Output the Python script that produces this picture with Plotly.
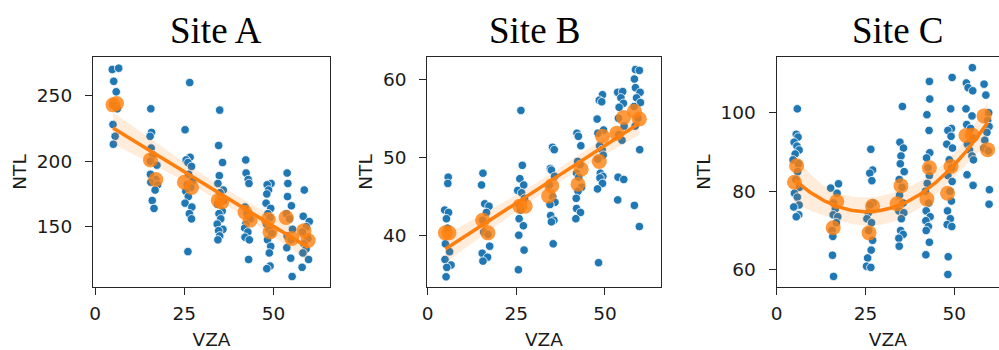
import numpy as np
import plotly.graph_objects as go

# ---------------- data ----------------
titles = ["Site A", "Site B", "Site C"]

a_blue_x = [4.8, 6.6, 5.2, 5.9, 5.0, 6.2, 5.0, 5.6, 5.1,
            15.6, 15.8, 15.4, 15.7, 16.2, 15.5, 17.3, 15.5, 17.0, 15.6, 17.5, 16.8, 16.0, 16.5,
            26.5, 25.2, 26.6, 25.5, 26.0, 27.0, 26.2, 27.3, 25.8, 26.8, 25.4, 26.1, 25.2, 27.1, 26.4, 27.0, 26.0,
            34.9, 34.6, 35.7, 34.8, 34.4, 35.9, 35.0, 36.0, 34.3, 35.6, 34.7, 35.2, 34.2, 35.8, 34.6, 34.9, 34.4,
            42.2, 42.3, 42.9, 43.1, 42.0, 42.6, 43.4, 42.2, 41.9, 42.8, 42.0, 43.2, 43.0,
            49.3, 48.2, 48.6, 48.1, 47.9, 49.2, 48.4, 49.0, 48.0, 48.7, 49.5, 48.3, 49.2, 48.8, 49.0, 48.1,
            53.8, 54.0, 53.9, 55.0, 53.6, 54.5, 55.3, 53.8, 54.9, 53.7, 54.8, 55.2,
            58.6, 58.3, 60.0, 59.2, 58.1, 59.6, 58.5, 59.1, 58.2, 59.8, 58.0]
a_blue_y = [270, 271, 261, 253, 243, 240, 228, 219, 213,
            240, 222, 219, 210, 205, 200, 197, 190, 186, 184, 182, 178, 170, 164,
            260, 224, 203, 201, 199, 196, 190, 185, 182, 180, 177, 173, 168, 165, 160, 156, 131,
            239, 212, 199, 189, 183, 178, 176, 170, 167, 162, 160, 156, 152, 148, 147, 143, 140,
            201, 191, 186, 183, 165, 160, 156, 152, 149, 146, 142, 140, 125,
            183, 182, 178, 175, 168, 164, 160, 157, 152, 148, 145, 140, 135, 130, 120, 118,
            191, 183, 173, 166, 160, 156, 148, 143, 140, 134, 126, 112,
            178, 158, 154, 150, 146, 141, 137, 133, 130, 125, 119]
a_mean_x = [5, 6, 15.5, 17, 25, 27, 34.5, 35.5, 42, 43.4, 48.5, 49, 53.5, 55.1, 58.5, 59.7]
a_mean_y = [243, 244, 201, 186, 184, 180, 170, 169, 161, 155, 155.5, 146, 157, 141, 147, 139.5]

b_blue_x = [5.8, 5.7, 4.8, 5.9, 5.3, 5.6, 5.0, 6.2, 4.9, 6.6, 5.4, 5.2,
            15.6, 15.2, 16.1, 17.3, 16.6, 15.5, 15.8, 17.0, 17.5, 15.4, 16.9, 15.6,
            26.3, 26.7, 26.0, 27.1, 25.4, 26.5, 27.3, 25.9, 26.2, 25.8, 27.0, 25.7, 27.2, 25.6,
            35.2, 35.7, 34.6, 34.9, 35.8, 34.3, 35.3, 35.9, 34.5, 34.7, 35.6, 34.9, 35.4,
            42.1, 42.5, 43.2, 42.3, 43.0, 42.0, 42.6, 43.4, 42.4, 41.9, 42.0, 43.1, 41.8,
            49.3, 48.4, 49.1, 47.8, 49.6, 48.0, 48.5, 49.2, 49.5, 48.0, 48.7, 49.4, 48.6, 49.3, 47.9, 48.2,
            53.6, 55.0, 54.5, 55.2, 54.0, 53.8, 55.4, 53.9, 54.8, 53.7, 55.3, 53.6,
            58.6, 59.7, 58.3, 58.6, 59.9, 58.9, 60.0, 58.2, 59.3, 58.5, 59.8, 58.3, 59.7]
b_blue_y = [47.5, 46.7, 43.3, 43.0, 42.2, 41.0, 39.0, 38.0, 37.0, 36.3, 36.0, 34.8,
            48.0, 46.5, 44.1, 43.8, 43.0, 42.0, 40.5, 40.2, 38.7, 37.8, 37.3, 36.8,
            56.0, 49.0, 47.3, 46.5, 45.8, 45.5, 44.8, 43.9, 43.3, 42.2, 41.3, 40.1, 38.2, 35.7,
            51.3, 51.0, 48.6, 48.4, 47.6, 46.5, 45.0, 44.3, 44.0, 42.6, 42.0, 41.8, 39.0,
            53.1, 52.7, 51.5, 49.5, 49.1, 48.0, 47.5, 46.2, 45.7, 44.8, 43.5, 43.0, 42.2,
            58.0, 57.3, 57.1, 54.9, 53.5, 53.1, 51.5, 51.0, 50.3, 49.8, 48.0, 47.6, 47.4, 46.7, 46.0, 36.6,
            58.3, 58.4, 57.6, 56.9, 56.4, 55.0, 54.0, 52.9, 52.2, 47.5, 47.2, 44.6,
            61.2, 61.1, 60.0, 58.9, 58.3, 57.6, 57.0, 56.5, 55.0, 54.0, 51.0, 43.9, 41.2]
b_mean_x = [5, 6, 15.5, 17, 26, 27.5, 34.1, 35, 42.4, 43.3, 48.4, 49.3, 53.3, 55.2, 58.3, 59.7]
b_mean_y = [40.4, 40.4, 42.0, 40.4, 43.8, 43.8, 45.1, 46.4, 46.6, 48.5, 49.5, 52.7, 53.1, 55.1, 55.9, 54.9]

c_blue_x = [5.8, 5.5, 6.0, 4.9, 5.7, 6.3, 5.2, 4.6, 6.1, 5.9, 5.4, 6.4, 5.0, 5.8, 6.3, 4.8, 6.2, 5.5,
            17.4, 15.2, 17.0, 16.0, 16.5, 15.9, 17.2, 16.8, 15.6, 15.8, 15.7, 16.0,
            26.5, 27.0, 26.2, 26.8, 27.1, 26.3, 25.8, 25.4, 26.7, 25.9, 27.0, 26.6, 25.6, 25.3, 26.5,
            35.4, 34.7, 35.7, 35.0, 34.8, 35.9, 34.5, 35.3, 34.6, 35.6, 34.4, 35.8, 35.1, 34.9, 35.6, 34.4, 34.5,
            43.0, 43.1, 42.3, 42.9, 43.1, 42.2, 42.6, 43.0, 42.4, 41.9, 42.8, 42.1, 43.2, 42.0, 42.7, 42.1, 43.0, 42.0,
            49.4, 49.0, 49.2, 48.2, 49.1, 47.9, 49.5, 48.6, 49.3, 48.2, 49.4, 48.8, 49.2, 48.1, 48.9, 48.0, 49.3, 48.3, 48.2,
            55.1, 53.4, 53.9, 55.2, 53.3, 55.0, 53.5, 54.6, 55.3, 53.7, 54.3, 55.0, 55.4, 53.6, 55.3,
            58.4, 58.9, 59.7, 59.4, 59.8, 59.2, 58.6, 58.3, 59.6, 59.9, 59.8]
c_blue_y = [101, 94.5, 93.8, 92.5, 91.5, 90.5, 89.5, 88, 87, 85, 83, 81, 79.5, 78.5, 76.5, 76, 74, 73.5,
            81.9, 80.8, 79.5, 77.0, 75.5, 74.0, 73.5, 72.0, 70.0, 68.5, 63.7, 58.3,
            90.7, 85.4, 84.6, 82.7, 77.0, 76.5, 74.5, 73.0, 72.0, 70.0, 67.5, 65.0, 63.0, 60.9, 60.6,
            101.6, 92.5, 91, 89, 87, 85, 83, 81, 79, 77, 75, 74.5, 73, 70, 69, 68, 66,
            108, 103.5, 99.5, 95.5, 89.8, 88.5, 86, 84, 82, 80, 77, 75, 73.5, 72.5, 71, 70, 67, 63.8,
            109, 101, 96, 95.5, 94, 92, 91, 88, 86, 84, 82.5, 80, 77.5, 75, 73, 71.5, 71, 63.3, 58.8,
            111.5, 107.6, 106.4, 105.6, 101, 99.2, 97, 96, 93.5, 92, 90.5, 89, 88, 84.2, 81.5,
            107.3, 104.5, 100, 98, 96.5, 95, 93, 91, 90.3, 80.4, 76.7]
c_mean_x = [5.0, 5.6, 15.9, 16.9, 26.0, 27.0, 33.9, 35.0, 42.3, 43.0, 48.1, 49.1, 53.3, 55.1, 58.4, 59.4]
c_mean_y = [82.3, 86.5, 70.7, 77.4, 69.4, 76.2, 76.8, 81.4, 78.0, 86.0, 79.5, 86.3, 94.2, 94.3, 99.2, 90.6]

fit_order = [1, 1, 2]
t_crit = [2.145, 2.145, 2.160]

x_ticks = [0, 25, 50]
y_ticks = [[150, 200, 250], [40, 50, 60], [60, 80, 100]]
x_ranges = [[-0.6, 65.8], [-0.1, 65.7], [0, 62.6]]
y_ranges = [[104, 279.5], [33.5, 62.8], [55.6, 114.2]]
x_domains = [[0.0931, 0.3303], [0.4277, 0.6613], [0.7775, 1.0]]
y_domain = [0.18, 0.837]
title_x = [215.5, 535, 898]

blue_x = [a_blue_x, b_blue_x, c_blue_x]
blue_y = [a_blue_y, b_blue_y, c_blue_y]
mean_x = [a_mean_x, b_mean_x, c_mean_x]
mean_y = [a_mean_y, b_mean_y, c_mean_y]

BLUE = "#1f77b4"
ORANGE = "#ff7f0e"
AX = "#262626"


def fit_band(x, y, order, t, npts=100):
    x = np.asarray(x, float)
    y = np.asarray(y, float)
    X = np.vander(x, order + 1)
    beta, *_ = np.linalg.lstsq(X, y, rcond=None)
    resid = y - X @ beta
    dof = len(x) - (order + 1)
    s2 = float(resid @ resid) / dof
    cov = s2 * np.linalg.inv(X.T @ X)
    xs = np.linspace(x.min(), x.max(), npts)
    Xs = np.vander(xs, order + 1)
    yh = Xs @ beta
    se = np.sqrt(np.einsum("ij,jk,ik->i", Xs, cov, Xs))
    return xs, yh, yh - t * se, yh + t * se


fig = go.Figure()
for i in range(3):
    xa = "x" if i == 0 else f"x{i+1}"
    ya = "y" if i == 0 else f"y{i+1}"
    fig.add_trace(go.Scatter(
        x=blue_x[i], y=blue_y[i], mode="markers", xaxis=xa, yaxis=ya,
        marker=dict(color=BLUE, size=8.5, line=dict(color="white", width=0.8)),
        showlegend=False, hoverinfo="skip"))
    xs, yh, lo, hi = fit_band(mean_x[i], mean_y[i], fit_order[i], t_crit[i])
    fig.add_trace(go.Scatter(
        x=np.concatenate([xs, xs[::-1]]), y=np.concatenate([hi, lo[::-1]]),
        mode="lines", fill="toself", fillcolor="rgba(255,127,14,0.15)",
        line=dict(width=0), xaxis=xa, yaxis=ya, showlegend=False, hoverinfo="skip"))
    fig.add_trace(go.Scatter(
        x=xs, y=yh, mode="lines", line=dict(color=ORANGE, width=3.5),
        xaxis=xa, yaxis=ya, showlegend=False, hoverinfo="skip"))
    fig.add_trace(go.Scatter(
        x=mean_x[i], y=mean_y[i], mode="markers", xaxis=xa, yaxis=ya,
        marker=dict(color=ORANGE, size=15, opacity=0.8, line=dict(width=0)),
        showlegend=False, hoverinfo="skip"))

FS = 18.5
tickfont = dict(family="DejaVu Sans", size=FS, color="#1a1a1a")
titlefont = dict(family="DejaVu Sans", size=FS, color="#1a1a1a")
layout = dict(
    width=999, height=350, margin=dict(l=0, r=0, t=0, b=0),
    paper_bgcolor="white", plot_bgcolor="white", showlegend=False,
    annotations=[],
)
for i in range(3):
    xk = "xaxis" if i == 0 else f"xaxis{i+1}"
    yk = "yaxis" if i == 0 else f"yaxis{i+1}"
    ya = "y" if i == 0 else f"y{i+1}"
    xa = "x" if i == 0 else f"x{i+1}"
    layout[xk] = dict(
        domain=x_domains[i], anchor=ya, range=x_ranges[i], automargin=False,
        tickvals=x_ticks, ticktext=[str(v) for v in x_ticks],
        showgrid=False, zeroline=False, showline=True, linecolor=AX, linewidth=1.3,
        mirror=True, ticks="outside", ticklen=7, tickwidth=1.2, tickcolor=AX,
        tickfont=tickfont, ticklabelstandoff=3,
        title=dict(text="VZA", font=titlefont, standoff=10))
    layout[yk] = dict(
        domain=y_domain, anchor=xa, range=y_ranges[i], automargin=False,
        tickvals=y_ticks[i], ticktext=[str(v) for v in y_ticks[i]],
        showgrid=False, zeroline=False, showline=True, linecolor=AX, linewidth=1.3,
        mirror=(i < 2), ticks="outside", ticklen=7, tickwidth=1.2, tickcolor=AX,
        tickfont=tickfont, ticklabelstandoff=9,
        title=dict(text="NTL", font=titlefont, standoff=5))
    layout["annotations"].append(dict(
        text=titles[i], x=title_x[i] / 999, y=1 - 31 / 350, xref="paper", yref="paper",
        xanchor="center", yanchor="middle", showarrow=False,
        font=dict(family="Liberation Serif", size=37, color="black")))

fig.update_layout(**layout)
fig.write_html("out.html")
